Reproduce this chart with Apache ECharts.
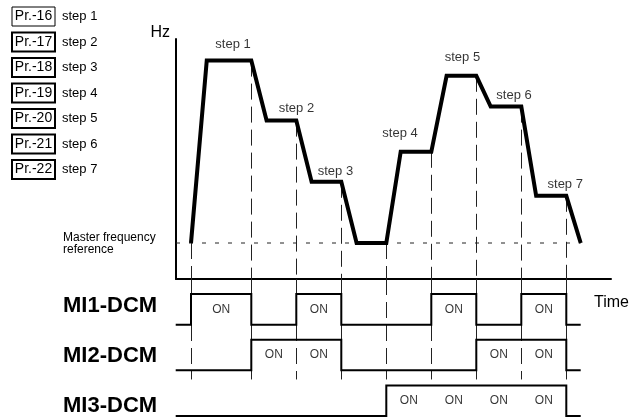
<!DOCTYPE html>
<html><head><meta charset="utf-8">
<script src="https://cdn.jsdelivr.net/npm/echarts@6/dist/echarts.min.js"></script>
<style>html,body{margin:0;padding:0;background:#fff}#c{width:634px;height:418px}</style>
</head><body><div id="c"></div>
<script>
// ---- data ----
const paramCodes = ['Pr.-16','Pr.-17','Pr.-18','Pr.-19','Pr.-20','Pr.-21','Pr.-22'];
const stepNames = ['step 1','step 2','step 3','step 4','step 5','step 6','step 7'];
const waveT  = [0, 0.35, 1.34, 1.68, 2.34, 2.68, 3.34, 3.68, 4.34, 4.66, 5.34, 5.68, 6.34, 6.66, 7.34, 7.67, 8.34, 8.66];
const waveHz = [9, 54.6, 54.6, 39.6, 39.6, 24.3, 24.3, 9, 9, 31.8, 31.8, 50.8, 50.8, 43.1, 43.1, 20.8, 20.8, 9];
const masterHz = 9;
const boundaries = [0, 1.34, 2.34, 3.34, 4.34, 5.34, 6.34, 7.34, 8.34];
const mi1State = [1,0,1,0,0,1,0,1];
const mi2State = [0,1,1,0,0,0,1,1];
const mi3State = [0,0,0,0,1,1,1,1];
const miNames = ['MI1-DCM','MI2-DCM','MI3-DCM'];
const onText = 'ON';
const masterLabel = ['Master frequency','reference'];
const yName = 'Hz';
const xName = 'Time';

// ---- layout / style ----
const FONT = '"Liberation Sans", Arial, Helvetica, sans-serif';
const xMin = -1/3, xMax = 9 + 1/3;
const signalStart = -0.34, signalEnd = 8.66;
const pulseH = 0.67;
const rowBase = [2, 1, 0];
const stepLabelOffset = [[4,-16],[15,-12],[9,-10],[-16,-18],[1,-18],[8,-11],[14,-11]];
const legendBorder = [1,2,2,2,2,2,2];

// derived
const wave = waveT.map((t,i)=>[t, waveHz[i]]);
const dashTop = boundaries.map(b => waveHz[waveT.indexOf(b)]);
const plateaus = [];
for (let i=1;i<waveT.length-1;i++){
  if (waveHz[i]===waveHz[i+1] && waveHz[i]!==masterHz) { plateaus.push([(waveT[i]+waveT[i+1])/2, waveHz[i]]); i++; }
}
function signal(states, base){
  const pts=[[signalStart, base],[boundaries[0], base]];
  states.forEach((s,k)=>{ const l = base + s*pulseH; pts.push([boundaries[k], l]); pts.push([boundaries[k+1], l]); });
  pts.push([boundaries[boundaries.length-1], base]);
  pts.push([signalEnd, base]);
  return pts;
}
function onPoints(states, base){
  const out=[];
  states.forEach((s,k)=>{ if(s) out.push([(boundaries[k]+boundaries[k+1])/2, base + pulseH/2]); });
  return out;
}
const states = [mi1State, mi2State, mi3State];

const series = [];
// vertical dashed guide lines (upper and lower grids)
series.push({type:'lines', coordinateSystem:'cartesian2d', xAxisIndex:0, yAxisIndex:0, silent:true, z:1,
  data: boundaries.map((b,i)=>({coords:[[b,dashTop[i]],[b,0]]})),
  lineStyle:{color:'#222', width:1, type:[16,7], opacity:1}});
series.push({type:'lines', coordinateSystem:'cartesian2d', xAxisIndex:1, yAxisIndex:1, silent:true, z:1,
  data: boundaries.map(b=>({coords:[[b,3],[b,0.8]]})),
  lineStyle:{color:'#222', width:1, type:[16,7], opacity:1}});
// master frequency reference
series.push({type:'line', xAxisIndex:0, yAxisIndex:0, symbol:'none', silent:true, z:2,
  data:[[xMin, masterHz],[waveT[waveT.length-1], masterHz]],
  lineStyle:{color:'#222', width:1, type:[4,9]}});
// frequency waveform
series.push({type:'line', xAxisIndex:0, yAxisIndex:0, symbol:'none', silent:true, z:5,
  data: wave, lineStyle:{color:'#000', width:4, join:'miter', cap:'butt'}});
// step labels
series.push({type:'scatter', xAxisIndex:0, yAxisIndex:0, symbolSize:0, silent:true, z:6,
  data: plateaus.map((p,i)=>({value:p, label:{offset:stepLabelOffset[i]}, name:stepNames[i]})),
  label:{show:true, position:'inside', formatter:p=>p.name, color:'#000', fontSize:13, fontFamily:FONT}});
// MI signals
states.forEach((st,r)=>{
  series.push({type:'line', xAxisIndex:1, yAxisIndex:1, symbol:'none', silent:true, z:4,
    data: signal(st, rowBase[r]), lineStyle:{color:'#000', width:2, join:'miter'}});
  series.push({type:'scatter', xAxisIndex:1, yAxisIndex:1, symbolSize:0, silent:true, z:6,
    data: onPoints(st, rowBase[r]),
    label:{show:true, position:'inside', formatter:onText, color:'#000', fontSize:12, fontFamily:FONT}});
});

const graphic = [];
paramCodes.forEach((c,i)=>{
  const y0 = 7 + 25.5*i;
  graphic.push({type:'rect', shape:{x:12, y:y0, width:43, height:19}, style:{fill:'#fff', stroke:'#000', lineWidth:legendBorder[i]}});
  graphic.push({type:'text', x:33.5, y:y0+9.5, style:{text:c, font:'14px '+FONT, fill:'#000', align:'center', verticalAlign:'middle', textAlign:'center', textVerticalAlign:'middle'}});
  graphic.push({type:'text', x:62, y:y0+9.5, style:{text:stepNames[i], font:'13px '+FONT, fill:'#000', align:'left', verticalAlign:'middle', textAlign:'left', textVerticalAlign:'middle'}});
});
miNames.forEach((n,i)=>{
  graphic.push({type:'text', x:63, y:306 + 50*i, style:{text:n, font:'bold 22px '+FONT, fill:'#000', align:'left', verticalAlign:'middle', textAlign:'left', textVerticalAlign:'middle'}});
});
masterLabel.forEach((t,i)=>{
  graphic.push({type:'text', x:63, y:238 + 12*i, style:{text:t, font:'12px '+FONT, fill:'#000', align:'left', verticalAlign:'middle', textAlign:'left', textVerticalAlign:'middle'}});
});
graphic.push({type:'text', x:594, y:303, style:{text:xName, font:'16px '+FONT, fill:'#000', align:'left', verticalAlign:'middle', textAlign:'left', textVerticalAlign:'middle'}});

const chart = echarts.init(document.getElementById('c'), null, {renderer:'canvas'});
chart.setOption({
  animation:false,
  backgroundColor:'#fff',
  grid:[{left:176, top:39, width:435, height:240}, {left:176, top:279, width:435, height:137}],
  xAxis:[
    {type:'value', gridIndex:0, min:xMin, max:xMax, axisLine:{show:true, onZero:false, lineStyle:{color:'#000', width:2}}, axisTick:{show:false}, axisLabel:{show:false}, splitLine:{show:false}},
    {type:'value', gridIndex:1, min:xMin, max:xMax, show:false}
  ],
  yAxis:[
    {type:'value', gridIndex:0, min:0, max:60, name:yName, nameLocation:'end', nameGap:6,
     nameTextStyle:{fontSize:16, fontFamily:FONT, color:'#000', align:'right', verticalAlign:'middle', padding:[0,6,0,0]},
     axisLine:{show:true, onZero:false, lineStyle:{color:'#000', width:2}}, axisTick:{show:false}, axisLabel:{show:false}, splitLine:{show:false}},
    {type:'value', gridIndex:1, min:0, max:3, show:false}
  ],
  graphic: graphic,
  series: series
});
</script></body></html>
